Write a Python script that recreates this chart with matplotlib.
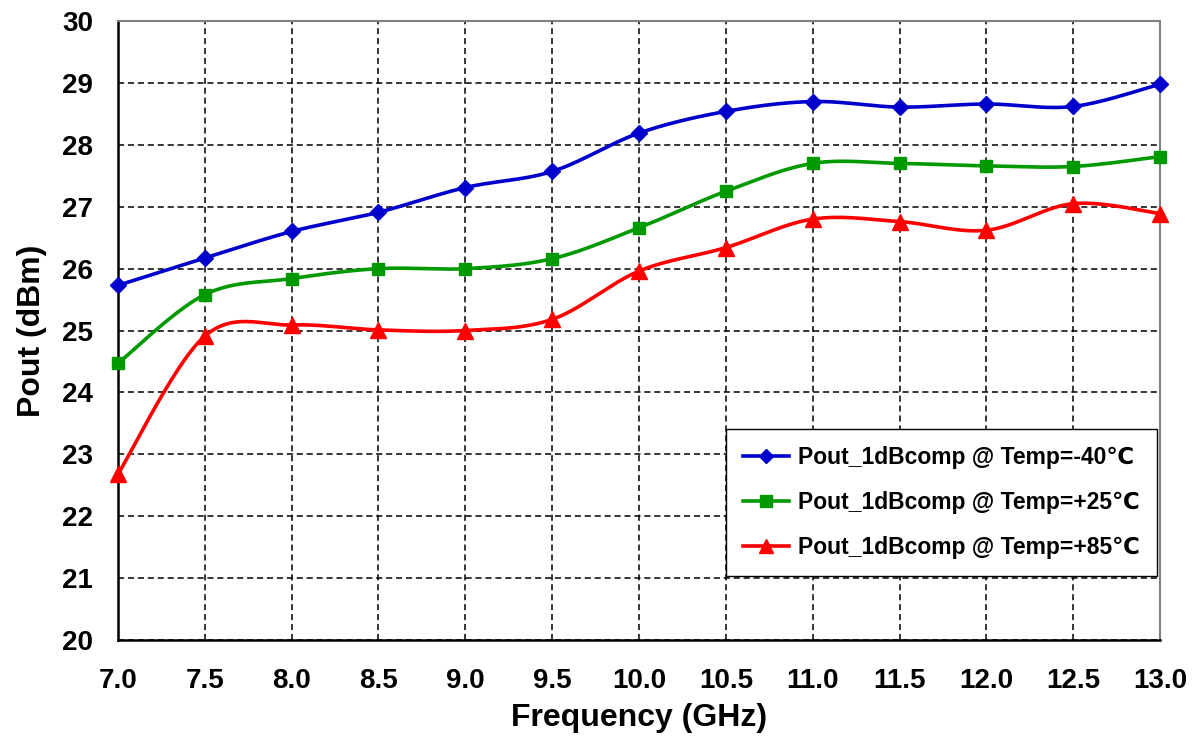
import numpy as np
import matplotlib
matplotlib.use("Agg")
import matplotlib.pyplot as plt

plt.rcParams['font.family'] = ['Liberation Sans', 'DejaVu Sans']
plt.rcParams['font.weight'] = 'bold'

# data
freq = [7.0, 7.5, 8.0, 8.5, 9.0, 9.5, 10.0, 10.5, 11.0, 11.5, 12.0, 12.5, 13.0]
pout_m40 = [25.73, 26.17, 26.60, 26.91, 27.31, 27.57, 28.19, 28.54, 28.70, 28.61, 28.66, 28.62, 28.98]
pout_p25 = [24.47, 25.58, 25.84, 26.00, 26.00, 26.16, 26.66, 27.25, 27.70, 27.70, 27.66, 27.65, 27.81]
pout_p85 = [22.68, 24.91, 25.09, 25.01, 25.00, 25.18, 25.96, 26.34, 26.80, 26.76, 26.62, 27.05, 26.89]

labels = ['Pout_1dBcomp @ Temp=-40℃',
          'Pout_1dBcomp @ Temp=+25℃',
          'Pout_1dBcomp @ Temp=+85℃']
colors = ['#0000CC', '#009900', '#FF0000']
markers = ['D', 's', '^']
msizes = [8, 9, 11]


# Excel-like smoothed line (cubic bezier through each point)
def smooth(x, y, n=30):
    x = np.asarray(x, float)
    y = np.asarray(y, float)
    px = np.concatenate([[x[0]], x, [x[-1]]])
    py = np.concatenate([[y[0]], y, [y[-1]]])
    xs, ys = [], []
    t = np.linspace(0, 1, n)
    for i in range(1, len(px) - 2):
        p0 = np.array([px[i], py[i]])
        p3 = np.array([px[i + 1], py[i + 1]])
        p1 = p0 + (np.array([px[i + 1], py[i + 1]]) - np.array([px[i - 1], py[i - 1]])) / 6
        p2 = p3 - (np.array([px[i + 2], py[i + 2]]) - np.array([px[i], py[i]])) / 6
        b = ((1 - t) ** 3)[:, None] * p0 + (3 * (1 - t) ** 2 * t)[:, None] * p1 \
            + (3 * (1 - t) * t ** 2)[:, None] * p2 + (t ** 3)[:, None] * p3
        xs.extend(b[:, 0])
        ys.extend(b[:, 1])
    return xs, ys


fig = plt.figure(figsize=(12, 7.39), dpi=100)
ax = fig.add_axes([0.0983, 0.134, 0.8684, 0.8375])

for yv, c, m, ms, lab in zip([pout_m40, pout_p25, pout_p85], colors, markers, msizes, labels):
    sx, sy = smooth(freq, yv)
    ax.plot(sx, sy, color=c, lw=2.6, zorder=3)
    ax.plot(freq, yv, ls='none', marker=m, ms=ms, color=c, mec=c, zorder=4, clip_on=False)
    ax.plot([], [], color=c, lw=2.6, marker=m, ms=ms - 1, label=lab)

ax.set_xlim(7.0, 13.0)
ax.set_ylim(20, 30)
ax.set_xticks(np.arange(7.0, 13.01, 0.5))
ax.set_yticks(np.arange(20, 31, 1))
ax.set_xticklabels(['%.1f' % v for v in np.arange(7.0, 13.01, 0.5)])
ax.tick_params(length=0, labelsize=20)
ax.tick_params(axis='y', pad=18)
ax.tick_params(axis='x', pad=20)
for t in ax.get_xticklabels() + ax.get_yticklabels():
    t.set_fontweight('bold')

ax.grid(True, color='black', ls=(0, (4, 2.5)), lw=1.1, zorder=1)
ax.spines['left'].set_linewidth(1.8)
ax.spines['bottom'].set_linewidth(1.8)
ax.spines['top'].set_color('#808080')
ax.spines['right'].set_color('#808080')
ax.spines['top'].set_linewidth(1.5)
ax.spines['right'].set_linewidth(1.5)

ax.set_xlabel('Frequency (GHz)', fontsize=23, fontweight='bold', labelpad=7)
ax.set_ylabel('Pout (dBm)', fontsize=23, fontweight='bold', labelpad=11)

leg = ax.legend(loc='lower right', bbox_to_anchor=(0.997, 0.103), borderaxespad=0,
                frameon=True, fancybox=False, edgecolor='black', framealpha=1,
                handlelength=2.0, handletextpad=0.4, labelspacing=0.95,
                borderpad=0.75, prop={'weight': 'bold', 'size': 16.5})
leg.get_frame().set_linewidth(1.0)

fig.savefig('out.png', dpi=100)
